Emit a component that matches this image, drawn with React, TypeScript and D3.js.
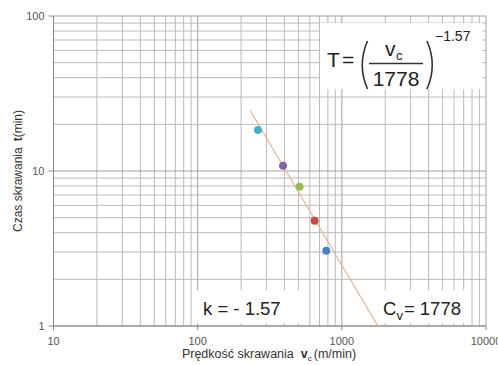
import React from "react";
import * as d3 from "d3";

const speeds = [262, 391, 509, 648, 780];
const times = [18.4, 10.8, 7.92, 4.78, 3.06];
const pointColors = ["#4bacc6", "#8064a2", "#9bbb59", "#c0504d", "#4f81bd"];
const xTicks = [10, 100, 1000, 10000];
const yTicks = [1, 10, 100];
const Cv = 1778;
const kExp = -1.57;
const lineRange = [230, 1778];

const W = 498, H = 365;
const FONT = "'Liberation Sans', Arial, sans-serif";

export default function App() {
  const x = d3.scaleLog().domain([10, 10000]).range([53.5, 486]);
  const y = d3.scaleLog().domain([1, 100]).range([326, 16]);

  const xGrid: number[] = [];
  [10, 100, 1000].forEach((d) => { for (let k = 1; k <= 9; k++) xGrid.push(k * d); });
  xGrid.push(10000);
  const yGrid: number[] = [];
  [1, 10].forEach((d) => { for (let k = 1; k <= 9; k++) yGrid.push(k * d); });
  yGrid.push(100);

  const isMajor = (v: number) => Math.abs(Math.log10(v) - Math.round(Math.log10(v))) < 1e-9;

  const lineData = d3.range(0, 41).map((i) => {
    const v = lineRange[0] * Math.pow(lineRange[1] / lineRange[0], i / 40);
    return [v, Math.pow(v / Cv, kExp)] as [number, number];
  });
  const line = d3.line<[number, number]>().x((d) => x(d[0])).y((d) => y(d[1]));

  const [x0, x1] = x.range();
  const [yb, yt] = y.range();

  return (
    <svg width={W} height={H} style={{ position: "absolute", left: 0, top: 0, background: "#fff" }} fontFamily={FONT}>
      {/* grid */}
      {xGrid.map((v) => (
        <line key={"gx" + v} x1={x(v)} x2={x(v)} y1={yt} y2={yb} stroke={isMajor(v) ? "#a0a0a0" : "#bababa"} strokeWidth={1} />
      ))}
      {yGrid.map((v) => (
        <line key={"gy" + v} x1={x0} x2={x1} y1={y(v)} y2={y(v)} stroke={isMajor(v) ? "#a0a0a0" : "#bababa"} strokeWidth={1} />
      ))}
      {/* axes */}
      <line x1={x0} x2={x0} y1={yt} y2={yb} stroke="#888" />
      <line x1={x0} x2={x1} y1={yb} y2={yb} stroke="#888" />
      {yTicks.map((v) => (
        <g key={"yt" + v}>
          <line x1={x0 - 5} x2={x0} y1={y(v)} y2={y(v)} stroke="#888" />
          <text x={x0 - 9} y={y(v)} dy="0.35em" textAnchor="end" fontSize={11} fill="#555">{v}</text>
        </g>
      ))}
      {xTicks.map((v) => (
        <g key={"xt" + v}>
          <line x1={x(v)} x2={x(v)} y1={yb} y2={yb + 4} stroke="#888" />
          <text x={x(v)} y={yb + 19} textAnchor="middle" fontSize={11} fill="#555">{v}</text>
        </g>
      ))}

      {/* annotation boxes */}
      <rect x={320} y={23} width={162} height={66} fill="#fff" />
      <rect x={197} y={290} width={108} height={33} fill="#fff" />
      <rect x={343} y={290} width={127} height={33} fill="#fff" />

      {/* fitted line */}
      <path d={line(lineData) || ""} fill="none" stroke="#e6b499" strokeWidth={1.2} />

      {/* points */}
      {speeds.map((v, i) => (
        <circle key={"p" + i} cx={x(v)} cy={y(times[i])} r={4} fill={pointColors[i]} />
      ))}

      {/* formula */}
      <g fill="#222">
        <text x={327} y={66.5} fontSize={21}>T</text>
        <text x={342} y={66.5} fontSize={21}>=</text>
        <path d="M 367.5 41 Q 357 65 367.5 89" fill="none" stroke="#333" strokeWidth={1.6} />
        <path d="M 427 41 Q 437.5 65 427 89" fill="none" stroke="#333" strokeWidth={1.6} />
        <text x={385} y={56} fontSize={21}>v</text>
        <text x={396} y={60} fontSize={13}>c</text>
        <line x1={369} x2={423} y1={63.5} y2={63.5} stroke="#333" strokeWidth={1.3} />
        <text x={396} y={86} fontSize={21} textAnchor="middle">{Cv}</text>
        <text x={435} y={40.5} fontSize={14}>−1.57</text>
      </g>

      <text x={203} y={315} fontSize={18.5} fill="#222">k = - 1.57</text>
      <text x={383} y={315} fontSize={18.5} fill="#222">
        C<tspan fontSize={13} dy={5}>v</tspan><tspan dy={-5} dx={1}>= {Cv}</tspan>
      </text>

      {/* axis titles */}
      <text transform="translate(22,171) rotate(-90)" textAnchor="middle" fontSize={12} fill="#333">
        Czas skrawania<tspan dx={6} fontWeight="bold">t</tspan>(min)
      </text>
      <text x={269} y={358} textAnchor="middle" fontSize={12.5} fill="#333">
        Prędkość skrawania<tspan dx={7} fontWeight="bold">v</tspan><tspan fontSize={8} dy={3}>c</tspan><tspan dy={-3} dx={2}>(m/min)</tspan>
      </text>
    </svg>
  );
}
